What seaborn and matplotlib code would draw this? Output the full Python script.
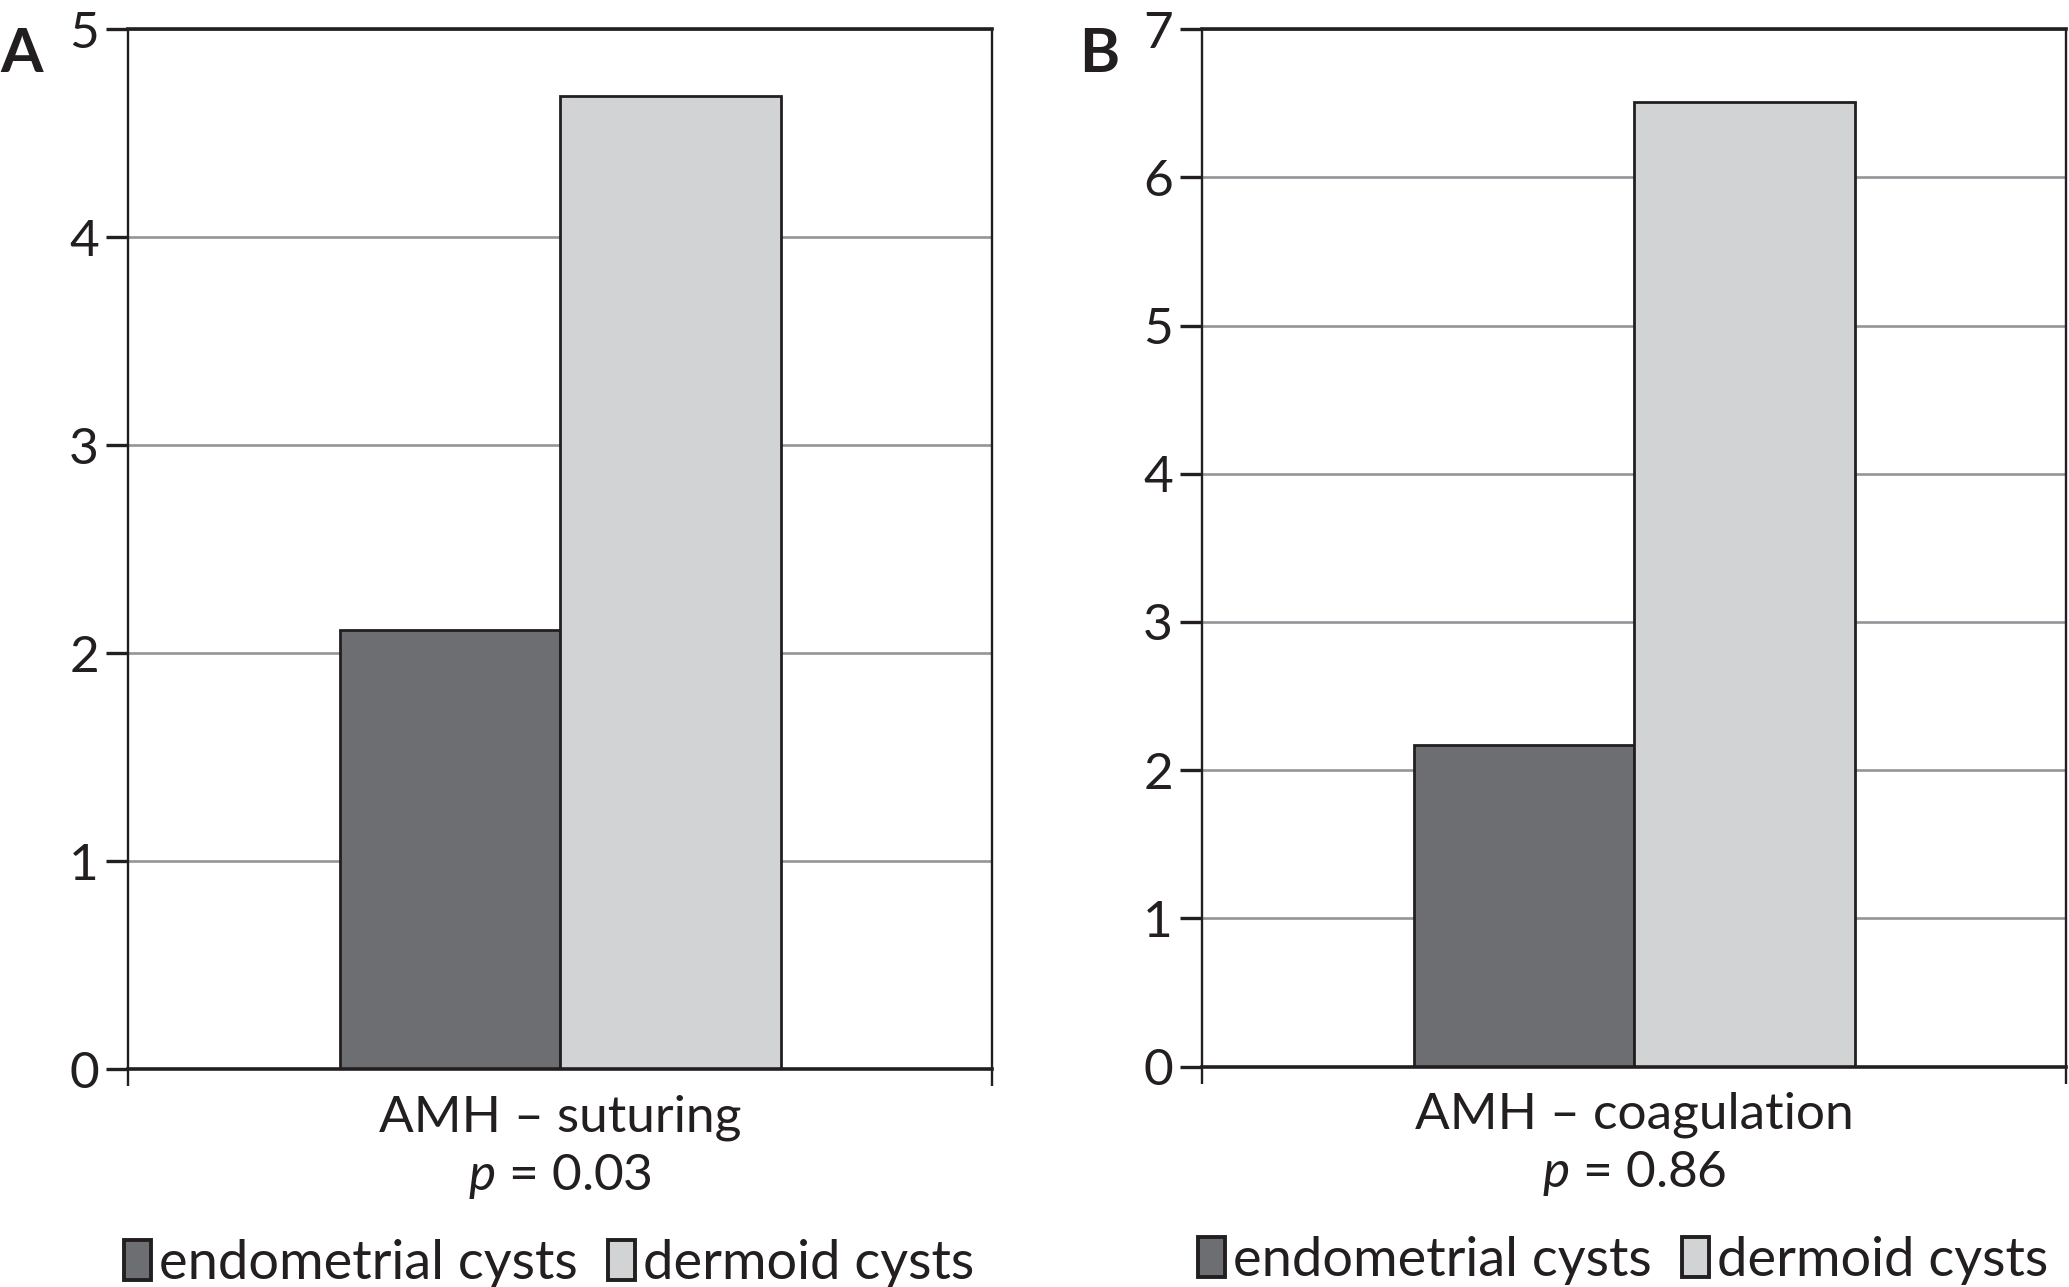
import matplotlib
matplotlib.use('Agg')
import matplotlib.pyplot as plt
import seaborn as sns
import pandas as pd

# values
groups = ['endometrial cysts', 'dermoid cysts']
suturing_amh = [2.11, 4.68]
coagulation_amh = [2.17, 6.51]
panel_titles = ['AMH – suturing', 'AMH – coagulation']
p_values = ['0.03', '0.86']
panel_letters = ['A', 'B']
y_max = [5, 7]

colors = ['#6d6e71', '#d1d3d4']
edge = '#231f20'
grid_color = '#939598'

sns.set_style('white')
plt.rcParams['font.family'] = ['Lato', 'DejaVu Sans']
plt.rcParams['mathtext.fontset'] = 'custom'
plt.rcParams['mathtext.rm'] = 'Lato'
plt.rcParams['mathtext.it'] = 'Lato:italic'

fig = plt.figure(figsize=(20.69, 12.87), dpi=100)
positions = [[0.0619, 0.1692, 0.4177, 0.8081], [0.5810, 0.1713, 0.4177, 0.8060]]
fig_letter_x = [0.0, 0.5217]

for i, vals in enumerate([suturing_amh, coagulation_amh]):
    ax = fig.add_axes(positions[i])
    df = pd.DataFrame({'procedure': [panel_titles[i]] * 2, 'group': groups, 'amh': vals})
    sns.barplot(data=df, x='procedure', y='amh', hue='group', palette=colors,
                width=0.51, edgecolor=edge, linewidth=2.0, saturation=1, ax=ax)
    ax.set_xlim(-0.5, 0.5)
    ax.set_ylim(0, y_max[i])
    ax.set_yticks(range(0, y_max[i] + 1))
    ax.set_xticks([-0.5, 0.5])
    ax.set_xticklabels(['', ''])
    ax.grid(axis='y', color=grid_color, linewidth=1.9)
    ax.set_axisbelow(True)
    for side in ['left', 'right']:
        ax.spines[side].set_color(edge)
        ax.spines[side].set_linewidth(1.7)
    for side in ['top', 'bottom']:
        ax.spines[side].set_color(edge)
        ax.spines[side].set_linewidth(2.6)
    ax.tick_params(axis='y', length=16, width=2.4, color=edge, labelsize=37, pad=5,
                   labelcolor=edge, left=True)
    ax.tick_params(axis='x', length=12, width=1.7, color=edge, bottom=True, pad=0)
    ax.set_ylabel('')
    ax.set_xlabel(f'{panel_titles[i]}\n$p$ = {p_values[i]}', fontsize=37, linespacing=1.3,
                  labelpad=6, color=edge)
    handles, labels = ax.get_legend_handles_labels()
    ax.get_legend().remove()
    leg = ax.legend(handles, labels, loc='center', bbox_to_anchor=(0.487, -0.187), ncol=2,
                    frameon=False, fontsize=39, handlelength=0.5, handleheight=0.75,
                    handletextpad=0.15, columnspacing=0.55, labelcolor=edge)
    for h in leg.get_patches():
        h.set_linewidth(2.8)
    fig.text(fig_letter_x[i], 0.958, panel_letters[i], fontsize=44, fontweight='bold',
             va='center', ha='left', color=edge)

fig.savefig('out.png', dpi=100)
